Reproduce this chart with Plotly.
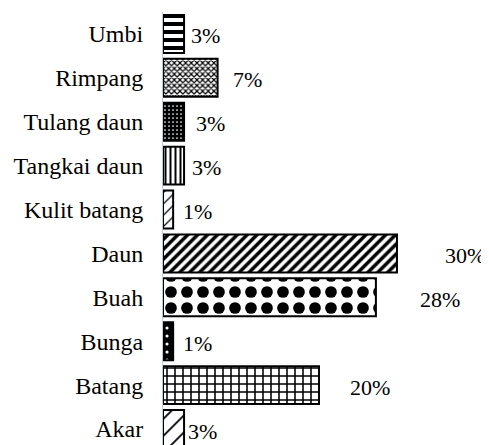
import plotly.graph_objects as go

categories = ["Akar", "Batang", "Bunga", "Buah", "Daun", "Kulit batang",
              "Tangkai daun", "Tulang daun", "Rimpang", "Umbi"]
values = [2.7, 20, 1.3, 27.3, 30, 1.3, 2.7, 2.7, 7, 2.7]
value_labels = ["3%", "20%", "1%", "28%", "30%", "1%", "3%", "3%", "7%", "3%"]

# styling (per bar)
pattern_shapes = ["/", "+", ".", ".", "/", "/", "|", ".", "x", "-"]
pattern_sizes = [12, 8, 8, 16, 7, 8, 5, 4, 4, 8]
pattern_solidity = [0.15, 0.35, 0.12, 0.42, 0.5, 0.15, 0.4, 0.15, 0.5, 0.5]
pattern_fg = ["black", "black", "white", "black", "black", "black", "black", "white", "black", "black"]
pattern_bg = ["white", "white", "black", "white", "white", "white", "white", "black", "white", "white"]
label_xshift = [2, 29, 8, 42, 46, 8, 6, 10, 13, 5]

font = "Liberation Serif, Times New Roman, serif"

fig = go.Figure(go.Bar(
    x=values, y=categories, orientation="h",
    marker=dict(
        color="white",
        line=dict(color="black", width=2),
        pattern=dict(shape=pattern_shapes, size=pattern_sizes,
                     solidity=pattern_solidity, fgcolor=pattern_fg,
                     bgcolor=pattern_bg, fillmode="replace"),
    ),
    hoverinfo="skip",
))

for c, v, t, dx in zip(categories, values, value_labels, label_xshift):
    fig.add_annotation(x=v, y=c, text=t, showarrow=False, xanchor="left",
                       yanchor="middle", xshift=dx, yshift=-2,
                       font=dict(family=font, size=22, color="black"))

# page body has an 8px margin, so the figure is 8px smaller and shifted
fig.update_layout(
    width=481, height=437,
    margin=dict(l=155, r=0, t=4, b=0, autoexpand=False),
    paper_bgcolor="white", plot_bgcolor="white",
    bargap=0.135, showlegend=False,
    xaxis=dict(range=[0, 41.8], visible=False, automargin=False),
    yaxis=dict(range=[-0.364, 9.5], showgrid=False, zeroline=False,
               automargin=False,
               showline=True, linecolor="#bccbe2", linewidth=1,
               ticks="", ticklabelstandoff=14,
               tickfont=dict(family=font, size=24, color="black")),
)

fig.write_html("out.html")
